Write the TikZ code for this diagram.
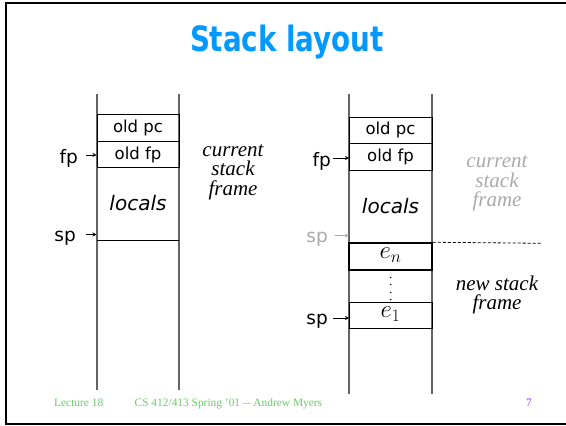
\documentclass[tikz,border=0pt]{standalone}
\usepackage{fontspec}
\usepackage{graphicx}
\setmainfont{Liberation Serif}
\newfontfamily\sansfont{DejaVu Sans}
\newfontfamily\sansbold{DejaVu Sans Condensed Bold}
\usetikzlibrary{arrows.meta}
\definecolor{titleblue}{RGB}{0,153,255}
\definecolor{footgreen}{RGB}{102,204,102}
\definecolor{pagepurple}{RGB}{153,51,255}
\definecolor{faded}{RGB}{170,170,170}
\definecolor{rail}{RGB}{100,100,100}
\tikzset{
  stackrail/.style={draw=rail, line width=1.1pt},
  cell/.style={draw=black, line width=0.9pt, inner sep=0pt, font=\sansfont\fontsize{16.5}{18}\selectfont},
  ptr/.style={font=\sansfont\fontsize{18.5}{20}\selectfont, inner sep=0pt, anchor=east},
  ptrarrow/.style={-{Stealth[length=4pt,width=4pt]}, line width=0.8pt},
  note/.style={font=\itshape\fontsize{21}{21.5}\selectfont, align=center, inner sep=0pt},
  localtxt/.style={font=\sansfont\itshape\fontsize{20}{22}\selectfont, inner sep=0pt},
  mathtxt/.style={font=\fontsize{23}{25}\selectfont},
  foot/.style={font=\fontsize{11.4}{13}\selectfont, text=footgreen, inner sep=0pt, anchor=base west},
}
\begin{document}
\begin{tikzpicture}[x=1pt,y=-1pt]
\useasboundingbox (0,0) rectangle (566,426);
\fill[white] (0,0) rectangle (566,426);
% slide frame
\draw[line width=2pt] (566,3) -- (6,3) -- (6,424) -- (566,424);

% title
\node[text=titleblue, anchor=base, inner sep=0pt] (title) at (287,51)
  {\resizebox{194pt}{26.5pt}{\sansbold Stack layout}};

% ---------- left stack ----------
\coordinate (lt) at (97,94);  \coordinate (lb) at (97,390);
\coordinate (rt) at (179,94); \coordinate (rb) at (179,390);
\draw[stackrail] (lt) -- (lb);
\draw[stackrail] (rt) -- (rb);
\node[cell, minimum width=82pt, minimum height=27pt] (lpc) at (138,127.5) {old pc};
\node[cell, minimum width=82pt, minimum height=26pt, anchor=north] (lfp) at (lpc.south) {old fp};
\coordinate (lspl) at (97,240); \coordinate (lspr) at (179,240);
\draw[line width=0.9pt] (lspl) -- (lspr);
\node[localtxt] (lloc) at (138,203) {locals};
\node[ptr] (lfptxt) at (78,158.5) {fp};
\node[ptr] (lsptxt) at (76,238) {sp};
\coordinate (lfpend) at (96.5,155);
\coordinate (lspend) at (96.5,234.5);
\draw[ptrarrow] (86,155) -- (lfpend);
\draw[ptrarrow] (86,234.5) -- (lspend);
\node[note] (lcur) at (233,172) {current\\[-2pt]stack\\[-2pt]frame};

% ---------- right stack ----------
\coordinate (Lt) at (349,94);  \coordinate (Lb) at (349,394);
\coordinate (Rt) at (432,94);  \coordinate (Rb) at (432,394);
\draw[stackrail] (Lt) -- (Lb);
\draw[stackrail] (Rt) -- (Rb);
\node[cell, minimum width=83pt, minimum height=26pt] (rpc) at (390.5,130) {old pc};
\node[cell, minimum width=83pt, minimum height=27pt, anchor=north] (rfp) at (rpc.south) {old fp};
\node[localtxt] (rloc) at (390.5,206) {locals};
\node[cell, line width=1.5pt, minimum width=83pt, minimum height=27pt] (en) at (390.5,256.5) {};
\node[mathtxt] (entxt) at (390.5,255.5) {$e_n$};
\node[cell, minimum width=83pt, minimum height=26pt] (e1) at (390.5,315.3) {};
\node[mathtxt] (e1txt) at (390.5,314.5) {$e_1$};
\foreach \yy in {277.5,284.5,292.5,299.5}
  \fill (390.7,\yy) circle (0.8pt);
\coordinate (dashend) at (542,243.3);
\draw[line width=0.8pt, dash pattern=on 3pt off 2pt] (en.north east) -- (dashend);

\node[ptr] (rfptxt) at (331,161.5) {fp};
\node[ptr, text=faded] (rsp0txt) at (328,239) {sp};
\node[ptr] (rsptxt) at (328,321.5) {sp};
\draw[ptrarrow] (333,158) -- (349,158);
\draw[ptrarrow, draw=faded, color=faded] (335,235.7) -- (349,235.7);
\draw[ptrarrow] (333,318) -- (349,318);

\node[note, text=faded] (rcur) at (497,183.5) {current\\[-2pt]stack\\[-2pt]frame};
\node[note] (rnew) at (497,295) {new stack\\[-2pt]frame};

% footer
\node[foot] (lect) at (54,406) {Lecture 18};
\node[foot] (course) at (134.5,406) {CS 412/413 Spring '01 -{}- Andrew Myers};
\node[foot, text=pagepurple] (page) at (526,406) {7};
\end{tikzpicture}
\end{document}
